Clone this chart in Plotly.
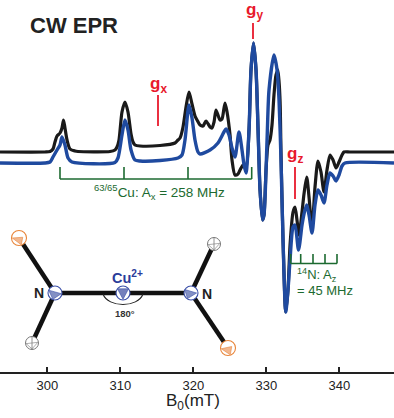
import plotly.graph_objects as go

# Spectra: magnetic field (mT) and signal (arbitrary units)
black_field = [293.52,299.68,300.37,300.78,301.05,301.33,301.74,302.01,302.22,302.42,302.70,303.11,303.79,304.2,308.59,309.27,309.55,309.82,310.23,310.64,311.05,311.47,311.74,312.01,312.7,315.44,317.49,317.9,318.18,318.59,319.0,319.41,319.82,320.23,320.51,320.92,321.33,321.74,322.29,322.56,322.84,323.11,323.66,323.93,324.34,324.62,325.03,325.3,325.71,326.12,326.4,326.81,327.22,327.63,327.9,328.25,328.59,328.87,329.14,329.48,329.68,329.96,330.23,330.5,330.78,331.05,331.33,331.6,331.88,332.01,332.29,332.66,332.97,333.25,333.66,333.93,334.2,334.48,334.89,335.16,335.53,335.85,336.26,336.67,337.08,337.49,337.9,338.31,338.73,339.14,339.55,339.96,340.37,340.64,341.47,347.49]
black_signal = [0,0,0.5,3,10,16,19,24,32,24,12,3,1,0.5,0.5,2,5,12,40,50,40,18,10,7,6,6.5,9,12,14,25,45,60,48,36,32,27,26,31,25,24,30,42,32,33,49,40,17,-8,-23,-22,-18,-13,-16,22,82,109,82,22,-38,-68,-63,-18,7,12,27,57,77,82,52,0,-88,-160,-138,-93,-60,-55,-68,-83,-60,-42,-25,-45,-76,-35,-9,-20,-40,-18,-3,-8,-16,-10,-3,0,0,0]
blue_field = [293.52,299.68,300.37,300.78,301.33,301.74,302.01,302.42,302.84,303.38,309.27,309.68,310.23,310.64,311.05,311.47,312.01,312.7,315.44,317.9,318.45,318.86,319.41,319.82,320.23,320.64,320.92,322.29,323.38,324.2,324.48,324.89,325.3,325.71,326.26,326.67,326.95,327.22,327.63,327.9,328.25,328.59,328.87,329.14,329.48,329.68,330.1,330.37,331.05,331.47,331.74,332.01,332.29,332.66,332.97,333.25,333.66,333.93,334.41,334.89,335.16,335.53,335.85,336.26,336.67,337.08,337.49,337.9,338.31,338.73,339.14,339.55,339.96,340.37,340.78,347.49]
blue_signal = [-11,-11,-10,-5,2,7,15,7,-6,-10,-10.5,-6,17,32,22,2,-8,-9,-8.5,-6,-3,12,47,34,12,0,-2,2,9,20,23,17,4,-5,20,2,-13,-21,22,82,109,82,22,-38,-68,-63,12,62,97,82,52,-8,-88,-160,-138,-108,-75,-73,-98,-73,-62,-53,-63,-81,-53,-38,-43,-51,-33,-21,-24,-29,-23,-14,-11,-11]
x_ticks = [300, 310, 320, 330, 340]

BLACK = "#1a1a1a"
BLUE = "#1f4a9f"
RED = "#e8192c"
GREEN = "#1c6a30"
ATOM_BLUE = "#3a4fa8"
ORANGE = "#e8853a"
GRAY = "#777777"
FONT = "Liberation Sans"
W, H = 394, 418

def X(px):
    return px / W
def Y(py):
    return 1 - py / H

fig = go.Figure()
fig.add_trace(go.Scatter(x=black_field, y=black_signal, mode="lines",
                         line=dict(color=BLACK, width=3.2, shape="spline", smoothing=0.7), hoverinfo="skip"))
fig.add_trace(go.Scatter(x=blue_field, y=blue_signal, mode="lines",
                         line=dict(color=BLUE, width=3.4, shape="spline", smoothing=0.7), hoverinfo="skip"))

shapes = []
def line(x0, y0, x1, y1, color, width):
    shapes.append(dict(type="line", xref="paper", yref="paper", x0=X(x0), y0=Y(y0), x1=X(x1), y1=Y(y1),
                       line=dict(color=color, width=width), layer="above"))

# g markers
line(158, 95, 158, 126, RED, 1.8)
line(253, 23, 253, 39, RED, 1.8)
line(295, 167, 295, 199, RED, 1.8)
# Cu bracket
line(60, 179, 251.7, 179, GREEN, 1.6)
for px in (60, 124, 188, 251.7):
    line(px, 167, px, 179, GREEN, 1.6)
# N bracket
line(290.7, 263.5, 337, 263.5, GREEN, 1.6)
for px in (290.7, 300.7, 313, 325, 337):
    line(px, 254, px, 263.5, GREEN, 1.6)

# molecule
Cu = (123, 293); NL = (55, 293); NR = (191, 293)
OL = (19, 238); GL = (32, 343); GR = (214, 244); OR = (228, 348)
for a, b in ((NL, NR), (NL, OL), (NL, GL), (NR, GR), (NR, OR)):
    line(a[0], a[1], b[0], b[1], "#111111", 4.5)
shapes.append(dict(type="path", xref="paper", yref="paper", layer="above",
                   path=f"M {X(103)},{Y(294)} C {X(108)},{Y(308)} {X(138)},{Y(308)} {X(143)},{Y(294)}",
                   line=dict(color="#222222", width=1.1)))

def atom(c, r, color, fill, wedge, lw=1.1):
    x, y = c
    shapes.append(dict(type="circle", xref="paper", yref="paper", layer="above",
                       x0=X(x-r), x1=X(x+r), y0=Y(y+r), y1=Y(y-r),
                       fillcolor="white", line=dict(color=color, width=lw)))
    p = [(X(x+wedge[i]*r), Y(y+wedge[i+1]*r)) for i in (0, 2, 4)]
    shapes.append(dict(type="path", xref="paper", yref="paper", layer="above",
                       path=f"M {p[0][0]},{p[0][1]} L {p[1][0]},{p[1][1]} L {p[2][0]},{p[2][1]} Z",
                       fillcolor=fill, line=dict(color=color, width=0.6)))

atom(NL, 7, ATOM_BLUE, "#8390c4", (-0.9, -0.4, 0.9, 0.1, -0.3, 0.9))
atom(NR, 7, ATOM_BLUE, "#8390c4", (-0.9, -0.5, 0.8, 0.0, -0.5, 0.8))
atom(Cu, 7, ATOM_BLUE, "#7480bc", (-0.8, -0.6, 0.8, -0.6, 0, 0.9))
atom(OL, 7.5, ORANGE, "#f2b78f", (-0.9, 0, 0.5, -0.1, 0.3, 0.9))
atom(OR, 7.5, ORANGE, "#f2b78f", (-0.9, 0.1, 0.5, -0.2, 0.3, 0.9))
for c in (GL, GR):
    atom(c, 6.5, GRAY, "#ffffff", (-0.9, 0.1, 0.9, -0.1, 0, 0.9), 1.0)
    line(c[0], c[1]-6.5, c[0], c[1]+6.5, GRAY, 0.8)

def text(x, y, s, size, color, xanchor="center"):
    return dict(x=X(x), y=Y(y), xref="paper", yref="paper", text=s, showarrow=False, xanchor=xanchor,
                yanchor="middle", font=dict(family=FONT, size=size, color=color))

annotations = [
    text(28, 25, "<b>CW EPR</b>", 22, "#222222", "left"),
    text(158, 85, "<b>g<sub>x</sub></b>", 17, RED),
    text(254, 11, "<b>g<sub>y</sub></b>", 17, RED),
    text(295, 155, "<b>g<sub>z</sub></b>", 17, RED),
    text(92, 192, "<sup>63/65</sup>Cu: A<sub>x</sub> = 258 MHz", 13.5, GREEN, "left"),
    text(295, 275, "<sup>14</sup>N: A<sub>z</sub>", 13, GREEN, "left"),
    text(295, 290, "= 45 MHz", 13, GREEN, "left"),
    text(39, 293, "<b>N</b>", 14, "#222222"),
    text(207, 294, "<b>N</b>", 14, "#222222"),
    text(127, 277, "<b>Cu<sup>2+</sup></b>", 14.5, "#2b3c9a"),
    text(125, 313, "<b>180°</b>", 9.5, "#333333"),
    text(193, 402, "B<sub>0</sub>(mT)", 17, "#222222"),
]

fig.update_layout(
    width=W, height=H, margin=dict(l=0, r=0, t=0, b=0),
    paper_bgcolor="white", plot_bgcolor="white", showlegend=False,
    shapes=shapes, annotations=annotations,
    xaxis=dict(range=[293.52, 347.49], domain=[0, 1], anchor="y", tickvals=x_ticks,
               ticks="inside", ticklen=5, tickwidth=2, tickcolor="#222222",
               showline=True, linecolor="#222222", linewidth=2, showgrid=False, zeroline=False,
               tickfont=dict(family=FONT, size=13, color="#222222")),
    yaxis=dict(range=[-220, 152], domain=[46/418, 1], visible=False, fixedrange=True),
)
fig.write_html("out.html", config=dict(displayModeBar=False),
               post_script="document.body.style.margin='0';document.documentElement.style.overflow='hidden';")
